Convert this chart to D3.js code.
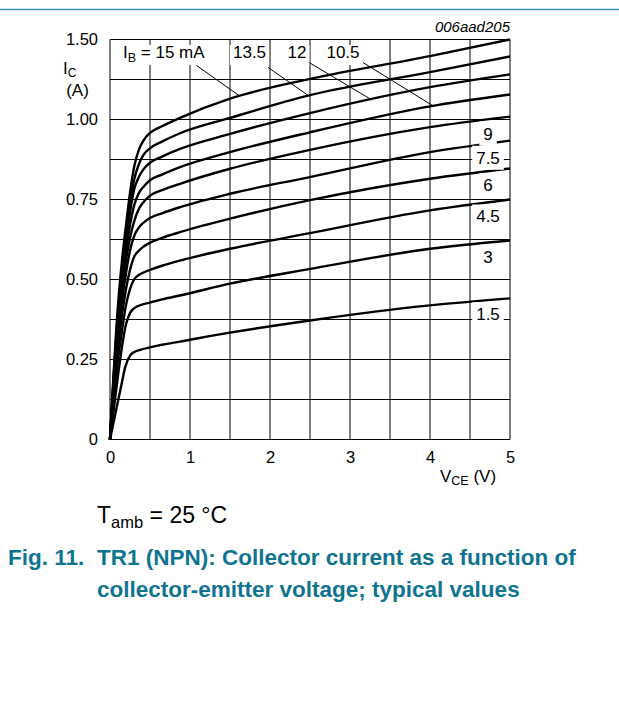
<!DOCTYPE html>
<html>
<head>
<meta charset="utf-8">
<script src="https://cdn.jsdelivr.net/npm/d3@7"></script>
<style>
  html, body { margin: 0; padding: 0; background: #fff; }
  svg { display: block; font-family: "Liberation Sans", Arial, sans-serif; }
</style>
</head>
<body>
<svg id="chart" width="619" height="709"></svg>
<script>
// IC (A) versus VCE (V), one curve per base current (mA)
const ibValues = ["15", "13.5", "12", "10.5", "9", "7.5", "6", "4.5", "3", "1.5"];

const ic15   = [[0,0],[0.1,0.42],[0.15,0.56],[0.2,0.67],[0.25,0.77],[0.3,0.85],[0.36,0.905],[0.42,0.935],[0.5,0.958],[0.65,0.979],[0.875,1.005],[1.5,1.065],[2.5,1.127],[4,1.198],[5,1.25]];
const ic13_5 = [[0,0],[0.1,0.40],[0.15,0.53],[0.2,0.64],[0.25,0.735],[0.3,0.81],[0.36,0.86],[0.42,0.89],[0.5,0.91],[0.65,0.931],[0.875,0.957],[1.5,1.005],[2.5,1.076],[4,1.148],[5,1.197]];
const ic12   = [[0,0],[0.1,0.38],[0.15,0.51],[0.2,0.62],[0.25,0.71],[0.3,0.78],[0.36,0.82],[0.42,0.845],[0.5,0.865],[0.65,0.884],[0.875,0.908],[1.5,0.955],[2.5,1.02],[4,1.101],[5,1.141]];
const ic10_5 = [[0,0],[0.1,0.36],[0.15,0.49],[0.2,0.59],[0.25,0.67],[0.3,0.73],[0.36,0.77],[0.42,0.79],[0.5,0.81],[0.65,0.828],[0.875,0.851],[1.5,0.898],[2.5,0.96],[4,1.041],[5,1.078]];
const ic9    = [[0,0],[0.1,0.34],[0.15,0.46],[0.2,0.56],[0.25,0.63],[0.3,0.68],[0.36,0.72],[0.42,0.742],[0.5,0.762],[0.65,0.779],[0.875,0.799],[1.5,0.846],[2.5,0.905],[4,0.976],[5,1.009]];
const ic7_5  = [[0,0],[0.1,0.32],[0.15,0.43],[0.2,0.52],[0.25,0.59],[0.3,0.635],[0.36,0.662],[0.42,0.678],[0.5,0.692],[0.65,0.707],[0.875,0.726],[1.5,0.768],[2.5,0.82],[4,0.898],[5,0.934]];
const ic6    = [[0,0],[0.1,0.29],[0.15,0.39],[0.2,0.47],[0.25,0.53],[0.3,0.57],[0.36,0.59],[0.42,0.603],[0.5,0.615],[0.65,0.63],[0.875,0.648],[1.5,0.69],[2.5,0.748],[4,0.815],[5,0.847]];
const ic4_5  = [[0,0],[0.1,0.25],[0.15,0.34],[0.2,0.42],[0.25,0.47],[0.3,0.5],[0.36,0.514],[0.42,0.522],[0.5,0.53],[0.65,0.543],[0.875,0.559],[1.5,0.596],[2.5,0.645],[4,0.716],[5,0.75]];
const ic3    = [[0,0],[0.1,0.2],[0.15,0.29],[0.2,0.36],[0.25,0.395],[0.3,0.41],[0.36,0.418],[0.42,0.423],[0.5,0.428],[0.65,0.438],[0.875,0.45],[1.5,0.487],[2.5,0.533],[4,0.596],[5,0.622]];
const ic1_5  = [[0,0],[0.1,0.12],[0.15,0.18],[0.19,0.226],[0.25,0.262],[0.3,0.273],[0.375,0.28],[0.5,0.288],[0.65,0.296],[0.875,0.306],[1.5,0.334],[2.5,0.372],[4,0.419],[5,0.441]];

const curves = [ic15, ic13_5, ic12, ic10_5, ic9, ic7_5, ic6, ic4_5, ic3, ic1_5];

const xTicks = [0, 1, 2, 3, 4, 5];
const xTickLabels = ["0", "1", "2", "3", "4", "5"];
const yTicks = [0, 0.25, 0.5, 0.75, 1.0, 1.25];
const yTickLabels = ["0", "0.25", "0.50", "0.75", "1.00", "1.50"];   // as printed on the sheet

// label placement (leader start in data units, leader end VCE)
const topLabels = [
  { i: 0, x: 0.1625, anchor: "start",  from: [1.08, 1.169],  to: 1.625 },
  { i: 1, x: 1.744,  anchor: "middle", from: [1.975, 1.163], to: 2.48 },
  { i: 2, x: 2.3375, anchor: "middle", from: [2.49, 1.178],  to: 3.27 },
  { i: 3, x: 2.9125, anchor: "middle", from: [3.1625, 1.178], to: 4.04 }
];
const sideLabelV = 4.725;

const svg = d3.select("#chart");
const x = d3.scaleLinear().domain([0, 5]).range([110, 510]);
const y = d3.scaleLinear().domain([0, 1.25]).range([439.5, 39.5]);

function icAt(c, v) {
  const i = d3.bisector(d => d[0]).left(c, v);
  if (i <= 0) return c[0][1];
  if (i >= c.length) return c[c.length - 1][1];
  const a = c[i - 1], b = c[i];
  return a[1] + (b[1] - a[1]) * (v - a[0]) / (b[0] - a[0]);
}

// teal rule on top of the page
svg.append("line")
  .attr("x1", 0).attr("x2", 619).attr("y1", 9.5).attr("y2", 9.5)
  .attr("stroke", "#3d9db4").attr("stroke-width", 1.5);

// grid
const grid = svg.append("g");
grid.selectAll(".gv").data(d3.range(11).map(i => i * 0.5)).join("line")
  .attr("x1", d => x(d)).attr("x2", d => x(d))
  .attr("y1", y(1.25)).attr("y2", y(0))
  .attr("stroke", "#000").attr("stroke-width", 1);
grid.selectAll(".gh").data(d3.range(11).map(i => i * 0.125)).join("line")
  .attr("x1", x(0)).attr("x2", x(5))
  .attr("y1", d => y(d)).attr("y2", d => y(d))
  .attr("stroke", "#000").attr("stroke-width", 1);

// axes
const yAxis = svg.append("g").attr("transform", `translate(${x(0)},0)`)
  .call(d3.axisLeft(y).tickValues(yTicks).tickFormat((d, i) => yTickLabels[i]).tickSize(0).tickPadding(12));
const xAxis = svg.append("g").attr("transform", `translate(0,${y(0)})`)
  .call(d3.axisBottom(x).tickValues(xTicks).tickFormat((d, i) => xTickLabels[i]).tickSize(0).tickPadding(12));
[yAxis, xAxis].forEach(a => {
  a.select(".domain").remove();
  a.selectAll("text").attr("font-size", 16.5).attr("fill", "#000")
    .attr("font-family", "'Liberation Sans', Arial, sans-serif");
});

// curves
const line = d3.line().x(d => x(d[0])).y(d => y(d[1])).curve(d3.curveMonotoneX);
svg.append("g").selectAll("path").data(curves).join("path")
  .attr("d", line).attr("fill", "none")
  .attr("stroke", "#000").attr("stroke-width", 2.4).attr("stroke-linejoin", "round");

// top labels with leaders
const topG = svg.append("g");
topLabels.forEach(l => {
  const c = curves[l.i];
  const g = topG.append("g");
  const box = g.append("rect").attr("fill", "#fff");
  const t = g.append("text").attr("x", x(l.x)).attr("y", 58)
    .attr("text-anchor", l.anchor).attr("font-size", 17);
  if (l.i === 0) {
    t.append("tspan").text("I");
    t.append("tspan").attr("font-size", 12.5).attr("dy", 4).text("B");
    t.append("tspan").attr("dy", -4).text(" = " + ibValues[0] + " mA");
  } else {
    t.text(ibValues[l.i]);
  }
  const bb = t.node().getBBox();
  box.attr("x", bb.x - 3).attr("width", bb.width + 6).attr("y", 45).attr("height", 20);
  g.append("line")
    .attr("x1", x(l.from[0])).attr("y1", y(l.from[1]))
    .attr("x2", x(l.to)).attr("y2", y(icAt(c, l.to)))
    .attr("stroke", "#000").attr("stroke-width", 1);
});

// side labels
const sideG = svg.append("g");
ibValues.slice(4).forEach((lab, k) => {
  const c = curves[k + 4];
  const base = y(icAt(c, sideLabelV)) + 20;
  const box = sideG.append("rect").attr("fill", "#fff");
  const t = sideG.append("text").attr("x", x(sideLabelV)).attr("y", base)
    .attr("text-anchor", "middle").attr("font-size", 17).text(lab);
  const bb = t.node().getBBox();
  box.attr("x", bb.x - 4).attr("width", bb.width + 8)
    .attr("y", base - 18).attr("height", 24);
});

// axis titles
const yt = svg.append("text").attr("x", 63).attr("y", 74).attr("font-size", 17);
yt.append("tspan").text("I");
yt.append("tspan").attr("font-size", 12).attr("dy", 3).text("C");
svg.append("text").attr("x", 77.5).attr("y", 96).attr("font-size", 17)
  .attr("text-anchor", "middle").text("(A)");

const xt = svg.append("text").attr("x", 440).attr("y", 482).attr("font-size", 17);
xt.append("tspan").text("V");
xt.append("tspan").attr("font-size", 12.5).attr("dy", 3).text("CE");
xt.append("tspan").attr("dy", -3).text(" (V)");

svg.append("text").attr("x", 510).attr("y", 32).attr("text-anchor", "end")
  .attr("font-size", 15).attr("font-style", "italic").text("006aad205");

// conditions and caption
const ta = svg.append("text").attr("x", 97).attr("y", 523).attr("font-size", 23);
ta.append("tspan").text("T");
ta.append("tspan").attr("font-size", 16.5).attr("dy", 5).text("amb");
ta.append("tspan").attr("dy", -5).text(" = 25 °C");

const cap = svg.append("g").attr("fill", "#0e7490").attr("font-weight", "bold").attr("font-size", 22.5);
cap.append("text").attr("x", 8).attr("y", 565).text("Fig. 11.");
cap.append("text").attr("x", 97).attr("y", 565).text("TR1 (NPN): Collector current as a function of");
cap.append("text").attr("x", 97).attr("y", 597).text("collector-emitter voltage; typical values");
</script>
</body>
</html>
